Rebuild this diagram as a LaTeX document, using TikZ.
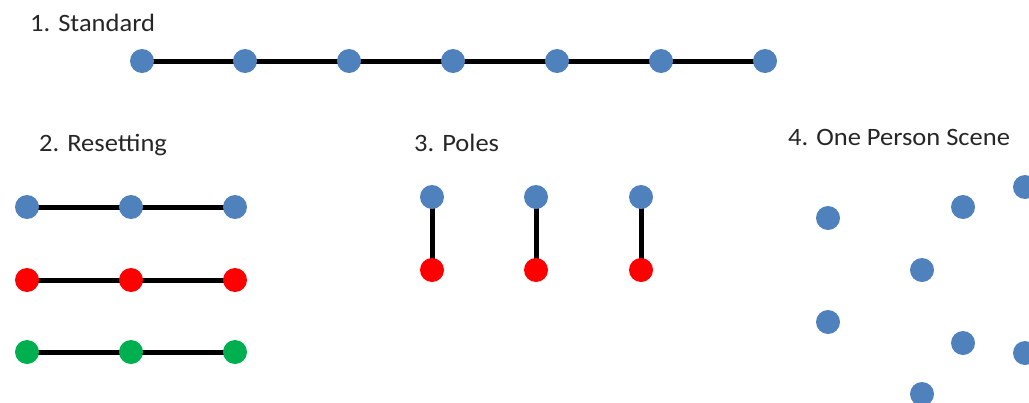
\documentclass[tikz,border=0pt]{standalone}
\usepackage{fontspec}
\setmainfont{Carlito}
\definecolor{dotblue}{HTML}{4F81BD}
\definecolor{dotred}{HTML}{FF0000}
\definecolor{dotgreen}{HTML}{00B050}
\definecolor{txtgray}{HTML}{262626}
\tikzset{
  dot/.style={circle,minimum size=24pt,inner sep=0pt,fill=#1},
  dot/.default=dotblue,
  link/.style={line width=5pt,black},
  ttl/.style={anchor=base west,inner sep=0pt,font=\fontsize{25}{30}\selectfont\addfontfeature{FakeStretch=1.06},text=txtgray}
}
\begin{document}
\begin{tikzpicture}[x=1pt,y=-1pt]
\useasboundingbox (0,0) rectangle (1029,402);
\clip (0,0) rectangle (1029,402);
% 1. Standard
\node[ttl] (t1) at (30,31) {1. Standard};
\foreach \i/\x in {1/142,2/245,3/349,4/453,5/557,6/661,7/765}
  \coordinate (s\i) at (\x,61);
\draw[link] (s1) -- (s2) -- (s3) -- (s4) -- (s5) -- (s6) -- (s7);
\foreach \i in {1,...,7}
  \node[dot] (sn\i) at (s\i) {};
% 2. Resetting
\node[ttl] (t2) at (39,151) {2. Resetting};
\foreach \r/\y/\c in {a/207/dotblue,b/280/dotred,c/352/dotgreen}{
  \coordinate (\r1) at (27,\y);
  \coordinate (\r2) at (131,\y);
  \coordinate (\r3) at (235,\y);
  \draw[link] (\r1) -- (\r2) -- (\r3);
  \node[dot=\c] (\r n1) at (\r1) {};
  \node[dot=\c] (\r n2) at (\r2) {};
  \node[dot=\c] (\r n3) at (\r3) {};
}
% 3. Poles
\node[ttl] (t3) at (414,151) {3. Poles};
\foreach \i/\x in {1/432,2/536,3/641}{
  \coordinate (pt\i) at (\x,197);
  \coordinate (pb\i) at (\x,270);
  \draw[link] (pt\i) -- (pb\i);
  \node[dot] (ptn\i) at (pt\i) {};
  \node[dot=dotred] (pbn\i) at (pb\i) {};
}
% 4. One Person Scene
\node[ttl] (t4) at (788,145) {4. One Person Scene};
\node[dot] (o1) at (828,218) {};
\node[dot] (o2) at (963,207) {};
\node[dot] (o3) at (1025,187) {};
\node[dot] (o4) at (922,270) {};
\node[dot] (o5) at (828,322) {};
\node[dot] (o6) at (963,343) {};
\node[dot] (o7) at (1025,353) {};
\node[dot] (o8) at (922,394) {};
\end{tikzpicture}
\end{document}
